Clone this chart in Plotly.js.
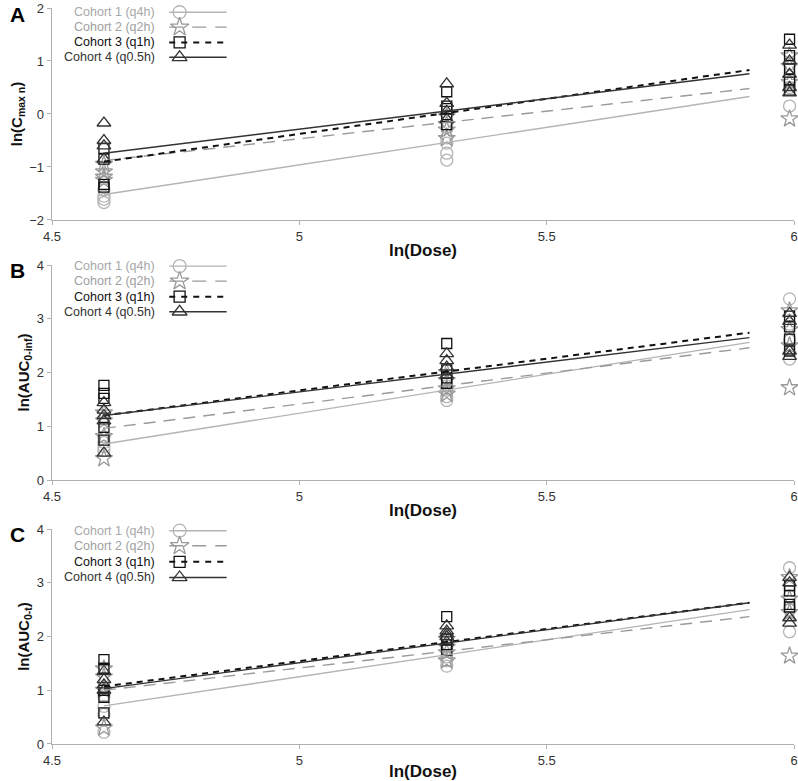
<!DOCTYPE html>
<html><head><meta charset="utf-8">
<script src="https://cdn.plot.ly/plotly-3.0.1.min.js"></script>
<style>html,body{margin:0;padding:0;background:#fff}#chart{width:798px;height:781px}</style>
</head><body><div id="chart"></div>
<script>
// ---- data ----
const lnDose = [4.605, 5.298, 5.991];           // ln(100), ln(200), ln(400)
const cohortNames = ['Cohort 1 (q4h)', 'Cohort 2 (q2h)', 'Cohort 3 (q1h)', 'Cohort 4 (q0.5h)'];
const panelLetters = ['A', 'B', 'C'];
const yTitles = ['ln(C<sub>max n</sub>)', 'ln(AUC<sub>0-inf</sub>)', 'ln(AUC<sub>0-t</sub>)'];
const xTickVals = [4.5, 5, 5.5, 6];
const xTickText = ['4.5', '5', '5.5', '6'];

// Panel A: ln(Cmax n) per dose level [100, 200, 400]
const cmax_c1 = [[-1.43, -1.61, -1.67, -1.55], [-0.45, -0.74, -0.87, -0.55], [0.15, 0.95, 0.6, 0.5]];
const cmax_c2 = [[-1.09, -1.19, -0.95, -1.25], [-0.46, -0.2, -0.05, -0.3], [-0.09, 0.6, 0.9, 1.1]];
const cmax_c3 = [[-0.65, -0.85, -1.33, -1.38], [0.42, 0.1, -0.05, -0.2, 0.15], [1.41, 1.1, 0.85, 0.65, 0.45]];
const cmax_c4 = [[-0.17, -0.5, -0.6, -0.85], [0.57, 0.2, 0.05, -0.1], [1.3, 1.0, 0.75, 0.5, 0.4]];

// Panel B: ln(AUC0-inf)
const aucinf_c1 = [[0.55, 0.7, 0.8, 0.62], [1.48, 1.55, 1.67, 1.75], [3.37, 2.25, 2.6, 2.9]];
const aucinf_c2 = [[0.4, 0.81, 1.25, 1.1], [1.6, 1.85, 2.0, 1.7], [3.15, 2.8, 1.72, 2.5]];
const aucinf_c3 = [[1.76, 1.61, 1.52, 0.98, 0.74], [2.54, 2.05, 1.9, 1.8], [3.05, 2.85, 2.62, 2.4]];
const aucinf_c4 = [[1.44, 1.3, 1.2, 0.5, 1.1], [2.35, 2.22, 2.1, 1.95], [3.1, 2.95, 2.4, 2.3]];

// Panel C: ln(AUC0-t)
const auct_c1 = [[0.22, 0.55, 0.9, 0.7], [1.45, 1.55, 1.62, 1.75], [3.28, 2.09, 2.5, 2.75]];
const auct_c2 = [[0.3, 1.0, 1.25, 1.4], [1.55, 1.8, 1.95, 1.7], [3.1, 2.7, 1.64, 2.45]];
const auct_c3 = [[1.57, 1.41, 0.87, 0.58, 1.0], [2.37, 1.95, 1.85, 1.75], [2.85, 2.6, 2.95, 2.55]];
const auct_c4 = [[1.35, 1.2, 1.1, 0.41, 1.0], [2.2, 2.1, 2.0, 1.9, 2.05], [3.1, 3.0, 2.35, 2.25]];

// fitted regression lines (endpoints)
const fitX = [4.605, 5.91];
const fitA_c1 = [-1.52, 0.33], fitA_c2 = [-0.88, 0.48], fitA_c3 = [-0.90, 0.83], fitA_c4 = [-0.74, 0.76];
const fitB_c1 = [0.67, 2.56], fitB_c2 = [0.96, 2.46], fitB_c3 = [1.20, 2.74], fitB_c4 = [1.20, 2.65];
const fitC_c1 = [0.71, 2.50], fitC_c2 = [1.00, 2.37], fitC_c3 = [1.07, 2.63], fitC_c4 = [1.03, 2.63];

// ---- styles ----
const styles = [
  {color: '#b4b4b4', text: '#a8a8a8', symbol: 'circle-open', size: 12, dash: 'solid', legDash: 'solid', width: 1.4},
  {color: '#9a9a9a', text: '#a0a0a0', symbol: 'star-open', size: 13, dash: '12px,8px', legDash: '14px,9px', width: 1.4},
  {color: '#111111', text: '#111111', symbol: 'square-open', size: 10, dash: '6px,5px', legDash: '6px,6px', width: 2},
  {color: '#333333', text: '#333333', symbol: 'triangle-up-open', size: 12, dash: 'solid', legDash: 'solid', width: 1.4}
];

const panels = [
  {pts: [cmax_c1, cmax_c2, cmax_c3, cmax_c4], fits: [fitA_c1, fitA_c2, fitA_c3, fitA_c4], range: [-2, 2], legY: [1.92, 1.64, 1.35, 1.07]},
  {pts: [aucinf_c1, aucinf_c2, aucinf_c3, aucinf_c4], fits: [fitB_c1, fitB_c2, fitB_c3, fitB_c4], range: [0, 4], legY: [3.98, 3.70, 3.41, 3.13]},
  {pts: [auct_c1, auct_c2, auct_c3, auct_c4], fits: [fitC_c1, fitC_c2, fitC_c3, fitC_c4], range: [0, 4], legY: [3.97, 3.69, 3.39, 3.10]}
];
const domains = [[0.712, 1.0], [0.3587, 0.6508], [0.0, 0.292]];
const letterShift = [-6, -5, -5];

const narrow = 'Liberation Sans Narrow, Arial Narrow, Liberation Sans, Arial';
const traces = [], shapes = [], annotations = [];
const layout = {
  width: 798, height: 781,
  margin: {l: 52, r: 4, t: 8, b: 37},
  paper_bgcolor: '#fff', plot_bgcolor: '#fff',
  showlegend: false,
  font: {family: 'Liberation Sans, Arial, sans-serif', color: '#333'}
};

panels.forEach((p, pi) => {
  const xs = pi === 0 ? 'x' : 'x' + (pi + 1);
  const ys = pi === 0 ? 'y' : 'y' + (pi + 1);
  const xk = pi === 0 ? 'xaxis' : 'xaxis' + (pi + 1);
  const yk = pi === 0 ? 'yaxis' : 'yaxis' + (pi + 1);
  layout[xk] = {
    anchor: ys, domain: [0, 1], range: [4.5, 6], tickvals: xTickVals, ticktext: xTickText,
    showgrid: false, zeroline: false, showline: true, linecolor: '#b0b0b0', linewidth: 1.3,
    ticks: 'outside', ticklen: 4, tickcolor: '#b0b0b0', ticklabeloverflow: 'allow',
    tickfont: {size: 13, color: '#333', family: narrow},
    title: {text: '<b>ln(Dose)</b>', standoff: 1, font: {size: 17, color: '#111', family: narrow}}
  };
  layout[yk] = {
    anchor: xs, domain: domains[pi], range: p.range, dtick: 1,
    showgrid: false, zeroline: false, showline: true, linecolor: '#b0b0b0', linewidth: 1.3,
    ticks: 'outside', ticklen: 4, tickcolor: '#b0b0b0',
    tickfont: {size: 13, color: '#333'},
    title: {text: '<b>' + yTitles[pi] + '</b>', standoff: 3, font: {size: 15, color: '#111', family: narrow}}
  };

  // data markers
  p.pts.forEach((series, ci) => {
    const st = styles[ci];
    const x = [], y = [];
    series.forEach((vals, di) => vals.forEach(v => { x.push(lnDose[di]); y.push(v); }));
    traces.push({
      type: 'scatter', mode: 'markers', x: x, y: y, xaxis: xs, yaxis: ys, name: cohortNames[ci],
      cliponaxis: false,
      marker: {symbol: st.symbol, size: st.size, color: st.color, line: {color: st.color, width: 1.3}},
      hoverinfo: 'skip'
    });
  });
  // fit lines
  p.fits.forEach((f, ci) => {
    const st = styles[ci];
    traces.push({
      type: 'scatter', mode: 'lines', x: fitX, y: f, xaxis: xs, yaxis: ys,
      line: {color: st.color, width: st.width, dash: st.dash}, hoverinfo: 'skip'
    });
  });
  // legend (manual: text then symbol/line)
  p.legY.forEach((ly, ci) => {
    const st = styles[ci];
    annotations.push({
      xref: xs, yref: ys, x: 4.712, y: ly, xanchor: 'right', yanchor: 'middle', showarrow: false,
      text: cohortNames[ci], font: {size: 12.5, color: st.text}
    });
    shapes.push({
      type: 'line', xref: xs, yref: ys, x0: 4.737, x1: 4.853, y0: ly, y1: ly,
      line: {color: st.color, width: st.width, dash: st.legDash}
    });
    traces.push({
      type: 'scatter', mode: 'markers', x: [4.758], y: [ly], xaxis: xs, yaxis: ys, cliponaxis: false,
      marker: {symbol: st.symbol, size: st.size + 1, color: st.color, line: {color: st.color, width: 1.3}},
      hoverinfo: 'skip'
    });
  });
  // panel letter
  annotations.push({
    xref: 'paper', yref: 'paper', x: -0.047, y: domains[pi][1], xanchor: 'center', yanchor: 'middle',
    yshift: letterShift[pi],
    showarrow: false, text: '<b>' + panelLetters[pi] + '</b>', font: {size: 21, color: '#000', family: 'Liberation Sans, Arial'}
  });
});

layout.shapes = shapes;
layout.annotations = annotations;
Plotly.newPlot('chart', traces, layout, {displayModeBar: false, staticPlot: true});
</script></body></html>
